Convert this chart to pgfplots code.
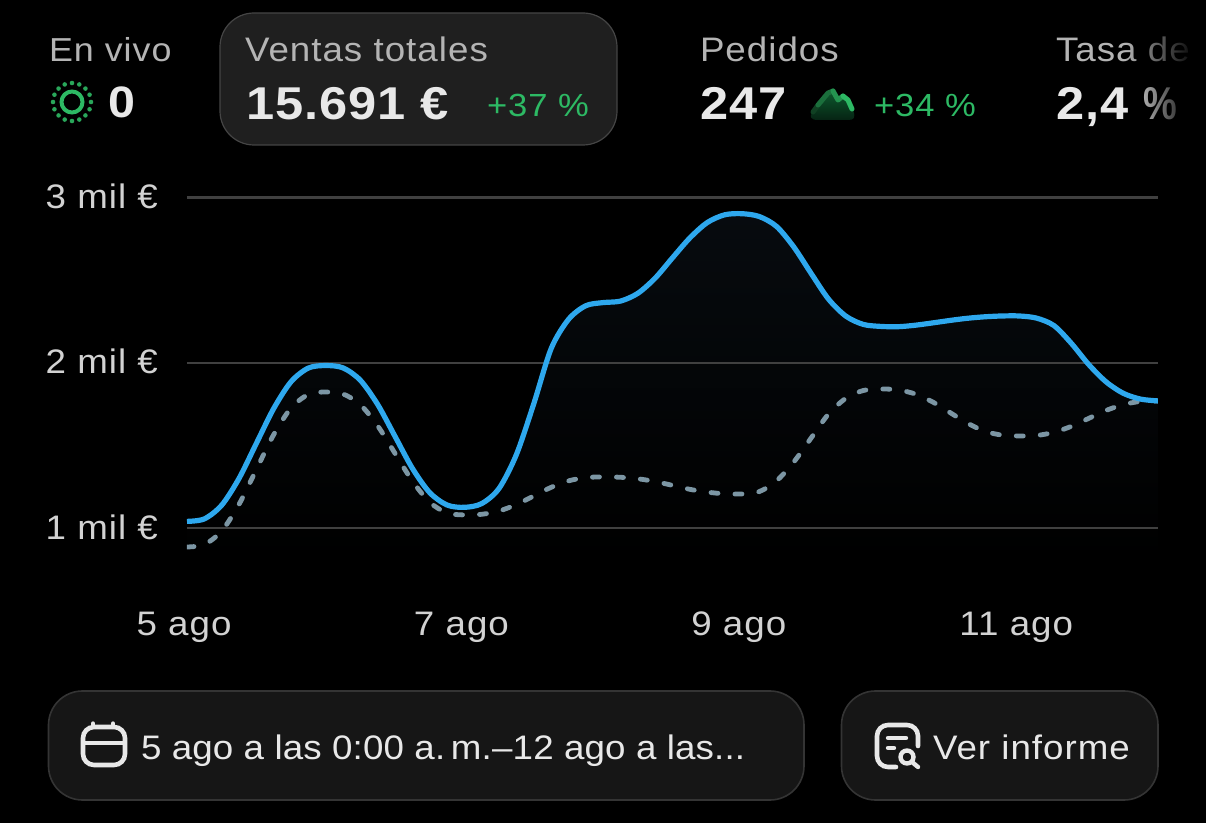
\documentclass[border=0pt]{standalone}
\usepackage{fontspec}
\setmainfont[FakeStretch=1.08,LetterSpace=3,BoldFeatures={FakeStretch=1.1,LetterSpace=2}]{Liberation Sans}
\newfontfamily\lfam[FakeStretch=1.08,LetterSpace=0.5]{Liberation Sans}
\usepackage{graphicx}
\usepackage{pgfplots}
\pgfplotsset{compat=1.18}
\usepackage{pgfplotstable}
\usetikzlibrary{fadings}
\definecolor{lbl}{HTML}{B4B4B4}
\definecolor{val}{HTML}{E8E8E8}
\definecolor{grn}{HTML}{2DB964}
\definecolor{blu}{HTML}{2EA8EE}
\definecolor{gry}{HTML}{7C96A4}
\definecolor{gridc}{HTML}{404040}
\definecolor{card}{HTML}{1F1F1F}
\definecolor{cardb}{HTML}{454545}
\definecolor{btn}{HTML}{161616}
\definecolor{btnb}{HTML}{343434}
\definecolor{tick}{HTML}{D2D2D2}
\definecolor{areatop}{HTML}{070B0F}
\definecolor{mtop}{HTML}{0D5A2E}
\definecolor{mbot}{HTML}{062313}
\pgfplotstableread{
x y
5.000 1040
5.125 1055
5.250 1138
5.375 1300
5.500 1512
5.625 1723
5.750 1885
5.875 1968
6.000 1983
6.125 1969
6.250 1894
6.375 1747
6.500 1554
6.625 1361
6.750 1214
6.875 1139
7.000 1125
7.125 1148
7.250 1240
7.375 1445
7.500 1752
7.625 2085
7.750 2262
7.875 2345
8.000 2364
8.125 2373
8.250 2420
8.375 2512
8.500 2635
8.625 2755
8.750 2848
8.875 2895
9.000 2902
9.125 2885
9.250 2825
9.375 2700
9.500 2540
9.625 2385
9.750 2282
9.875 2232
10.000 2220
10.125 2218
10.250 2227
10.375 2241
10.500 2256
10.625 2269
10.750 2278
10.875 2283
11.000 2283
11.125 2270
11.250 2225
11.375 2118
11.500 1990
11.625 1885
11.750 1815
11.875 1780
12.000 1769
}\ventas
\pgfplotstableread{
x y
5.000 885
5.125 900
5.250 982
5.375 1143
5.500 1354
5.625 1565
5.750 1726
5.875 1808
6.000 1823
6.125 1811
6.250 1746
6.375 1618
6.500 1451
6.625 1284
6.750 1156
6.875 1091
7.000 1079
7.125 1083
7.250 1103
7.375 1142
7.500 1194
7.625 1246
7.750 1285
7.875 1305
8.000 1309
8.125 1307
8.250 1298
8.375 1281
8.500 1258
8.625 1234
8.750 1217
8.875 1207
9.000 1206
9.125 1220
9.250 1285
9.375 1400
9.500 1545
9.625 1690
9.750 1785
9.875 1832
10.000 1841
10.125 1836
10.250 1811
10.375 1763
10.500 1699
10.625 1635
10.750 1586
10.875 1562
11.000 1557
11.125 1560
11.250 1579
11.375 1615
11.500 1663
11.625 1711
11.750 1747
11.875 1766
12.000 1769
}\anterior
\newcommand{\fs}[1]{\fontsize{#1}{#1}\selectfont}
\begin{document}
\begin{tikzpicture}
\path[use as bounding box] (0pt,0pt) rectangle (603pt,-411.5pt);
\clip (0pt,0pt) rectangle (603pt,-411.5pt);
\begin{scope}[x=0.5pt,y=-0.5pt]
\fill[black] (0,0) rectangle (1206,823);
% selected card and buttons
\draw[fill=card,draw=cardb,line width=0.6pt,rounded corners=17pt] (220,13) rectangle (617,145);
\draw[fill=btn,draw=btnb,line width=0.8pt,rounded corners=17pt] (48.5,691) rectangle (804,800);
\draw[fill=btn,draw=btnb,line width=0.8pt,rounded corners=17pt] (841.5,691) rectangle (1158,800);
\end{scope}
\begin{axis}[
  at={(93.5pt,-280.525pt)},anchor=south west,scale only axis,
  width=485.5pt,height=183.43pt,
  xmin=5,xmax=12,ymin=800,ymax=3020,
  axis line style={draw=none},
  major tick style={draw=none},
  xtick={5,7,9,11},xticklabels={5 ago,7 ago,9 ago,11 ago},
  ytick={1000,2000,3000},yticklabels={1 mil €,2 mil €,3 mil €},
  xticklabel style={font=\fs{17pt},text=tick,anchor=base,yshift=-37pt,xshift=-1.5pt},
  yticklabel style={font=\fs{17pt},text=tick,anchor=east,xshift=-11pt,yshift=0.5pt},
]
\addplot[draw=none,top color=areatop,bottom color=black,smooth] table[x=x,y=y]{\ventas} \closedcycle;
\addplot[gridc,line width=1.1pt,forget plot] coordinates {(5,1000)(12,1000)};
\addplot[gridc,line width=1.1pt,forget plot] coordinates {(5,2000)(12,2000)};
\addplot[gridc,line width=1.1pt,forget plot] coordinates {(5,3000)(12,3000)};
\addplot[gry,line width=2.4pt,smooth,line cap=round,dash pattern=on 3.5pt off 8.5pt] table[x=x,y=y]{\anterior};
\addplot[blu,line width=2.6pt,smooth] table[x=x,y=y]{\ventas};
\end{axis}
\begin{scope}[x=0.5pt,y=-0.5pt,every node/.style={inner sep=0pt,outer sep=0pt,anchor=base west}]
% texts
\node[text=lbl,font=\fs{16.6pt}] at (49,62) {En vivo};
\node[text=lbl,font=\fs{17pt}] at (245,62) {Ventas totales};
\node[text=lbl,font=\fs{17pt}] at (700,62) {Pedidos};
\node[text=lbl,font=\fs{17pt}] at (1056,62) {Tasa de};
\node[text=val,font=\bfseries\fs{22pt}] at (108,118) {0};
\node[text=val,font=\bfseries\fs{23pt}] at (246,120) {15.691 €};
\node[text=val,font=\bfseries\fs{23pt}] at (700,120) {247};
\node[text=val,font=\bfseries\fs{23pt}] at (1056,120) {2,4};
\node[text=val,font=\bfseries\fs{23pt}] at (1143,120) {\scalebox{0.75}[1]{\%}};
\node[text=grn,font=\fs{16pt}] at (487,117) {+37 \%};
\node[text=grn,font=\fs{16pt}] at (874,117) {+34 \%};
\node[text=val,font=\lfam\fs{17pt}] at (141,760) {5 ago a las 0:00 a.\,m.–12 ago a las...};
\node[text=val,font=\fs{17pt}] at (933,760) {Ver informe};
% fade at the right edge
\fill[black,path fading=west] (1125,25) rectangle (1195,135);
\fill[black] (1195,25) rectangle (1206,135);
% live icon
\draw[grn,line width=2pt] (72,102) circle (10.5);
\foreach \a in {0,22.5,...,337.5} \fill[grn!90!black] (72,102) ++(\a:19) circle (2.3);
% mountain icon
\fill[top color=mtop,bottom color=mbot] (813,112) -- (818,105) -- (828,93) -- (833,91) -- (838,100) -- (843,96) -- (848,100) -- (853,110)
  .. controls (856,118) and (854,120) .. (848,120) -- (818,120) .. controls (810,120) and (809,116) .. (813,112) -- cycle;
\draw[line width=2.5pt,line cap=round,line join=round,color=grn!35!black] (813,112) -- (818,105);
\draw[line width=2.5pt,line cap=round,line join=round,color=grn!60!black] (818,105) -- (828,93) -- (833,91);
\draw[line width=2.5pt,line cap=round,line join=round,color=grn!80!black] (833,91) -- (838,100) -- (843,96);
\draw[line width=2.5pt,line cap=round,line join=round,color=grn] (843,96) -- (848,100) -- (852,109);
% calendar icon
\draw[val,line width=2.3pt,rounded corners=5.5pt] (83,727) rectangle (125,765);
\draw[val,line width=2pt] (83,743) -- (125,743);
\draw[val,line width=2.2pt,line cap=round] (93,723.5) -- (93,727);
\draw[val,line width=2.2pt,line cap=round] (113,723.5) -- (113,727);
% report icon
\draw[val,line width=2.3pt,line cap=round,rounded corners=5.5pt] (918,746) -- (918,725) -- (877,725) -- (877,767) -- (896,767);
\draw[val,line width=2.2pt,line cap=round] (888,738) -- (906,738);
\draw[val,line width=2.2pt,line cap=round] (888,748) -- (894,748);
\draw[val,line width=2.2pt] (907,757) circle (6.5);
\draw[val,line width=2.2pt,line cap=round] (912,762) -- (918,767);
\end{scope}
\end{tikzpicture}
\end{document}
